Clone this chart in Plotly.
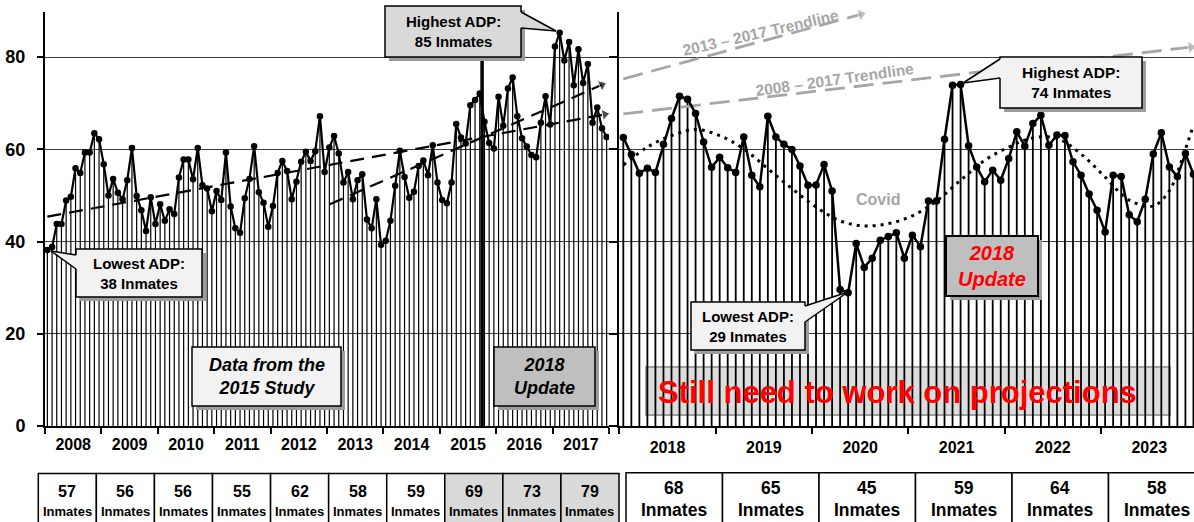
import plotly.graph_objects as go

W, H = 1194, 522
FONT = "Liberation Sans, Arial, sans-serif"

# ---------------- data ----------------
years_left = ["2008", "2009", "2010", "2011", "2012", "2013", "2014", "2015", "2016", "2017"]
years_right = ["2018", "2019", "2020", "2021", "2022", "2023"]

# monthly average daily population, Jan 2008 - Dec 2017
adp_left = [38.2, 38.8, 43.8, 43.8, 48.9, 49.7, 55.9, 54.9, 59.3, 59.3, 63.5, 62.2,
            56.8, 50.0, 53.6, 50.6, 49.2, 53.3, 60.3, 49.9, 46.8, 42.3, 49.6, 43.8,
            48.1, 44.5, 47.0, 46.0, 53.9, 57.8, 57.8, 53.5, 60.3, 52.2, 51.5, 46.6,
            51.0, 49.0, 59.3, 47.6, 42.9, 41.9, 49.4, 53.6, 60.7, 50.7, 48.4, 43.2,
            47.7, 54.9, 57.5, 55.3, 49.2, 53.0, 57.3, 59.5, 57.5, 59.6, 67.2, 55.1,
            60.4, 62.9, 59.1, 52.8, 55.1, 49.2, 53.3, 54.6, 44.8, 42.9, 49.2, 39.3,
            40.2, 44.5, 52.1, 59.7, 54.0, 49.5, 50.8, 56.4, 57.6, 54.4, 60.9, 52.8,
            49.0, 48.3, 52.8, 65.5, 62.6, 61.3, 69.6, 70.7, 72.1, 66.0, 61.4, 60.2,
            71.4, 65.1, 73.2, 75.6, 67.2, 62.4, 60.6, 58.8, 58.3, 65.8, 71.5, 65.4,
            82.3, 85.3, 79.3, 83.3, 73.9, 81.7, 74.4, 78.5, 65.8, 69.1, 64.6, 62.7]

# monthly average daily population, Jan 2018 - Dec 2023
adp_right = [62.6, 58.9, 54.8, 55.9, 55.0, 61.1, 66.7, 71.5, 70.9, 67.8, 61.6, 56.1,
             58.3, 56.0, 55.0, 62.7, 54.4, 51.9, 67.2, 62.7, 61.1, 60.0, 56.4, 52.2,
             52.3, 56.7, 51.0, 29.6, 28.9, 39.6, 34.4, 36.4, 40.3, 41.1, 41.9, 36.4,
             41.4, 38.9, 48.8, 48.8, 62.2, 73.9, 74.1, 60.8, 56.2, 53.0, 55.5, 53.3,
             58.0, 63.8, 60.7, 65.6, 67.4, 60.9, 63.1, 63.0, 57.3, 54.4, 50.3, 46.8,
             42.1, 54.4, 54.1, 45.8, 44.3, 49.2, 59.0, 63.6, 56.2, 54.1, 59.1, 54.6]

avg_left = [57, 56, 56, 55, 62, 58, 59, 69, 73, 79]
avg_right = [68, 65, 45, 59, 64, 58]
shaded_left = [False] * 7 + [True] * 3

study_split_month = 92.5
split_top_value = 79.8

trend_0817_left_m = [0, 118.6]
trend_0817_left_v = [45.4, 67.6]
trend_1317_left_m = [60.1, 118.0]
trend_1317_left_v = [48.1, 74.0]
trend_0817_right_m = [0, 70.7]
trend_0817_right_v = [67.7, 82.2]
trend_1317_right_m = [0, 29.6]
trend_1317_right_v = [75.3, 89.3]

covid_m = [0, 3, 6, 9, 12, 15, 18, 21, 24, 27, 30, 33, 36, 39, 42, 45, 48, 51, 54,
           57, 60, 63, 66, 68, 69, 70, 71]
covid_v = [56.6, 60.5, 63.0, 64.3, 63.0, 60.1, 55.8, 51.5, 47.5, 44.5, 43.4, 43.9,
           45.6, 48.8, 53.3, 57.6, 60.5, 62.5, 62.4, 59.0, 54.0, 49.0, 47.7, 51.0,
           55.0, 60.0, 65.3]

Y_MAX = 89.8


def px(x):
    return x / W


def py(y):
    return 1 - y / H


fig = go.Figure()


def stems(values, xa, ya, width):
    sx, sy = [], []
    for m, v in enumerate(values):
        sx += [m, m, None]
        sy += [0, v, None]
    fig.add_trace(go.Scatter(x=sx, y=sy, mode="lines", xaxis=xa, yaxis=ya,
                             line=dict(color="black", width=width), hoverinfo="skip"))


stems(adp_left, "x", "y", 1.2)
stems(adp_right, "x2", "y2", 1.8)

# separator between the 2015 study data and the 2018 update
fig.add_trace(go.Scatter(x=[study_split_month, study_split_month], y=[0, split_top_value],
                         mode="lines", xaxis="x", yaxis="y",
                         line=dict(color="black", width=3.5), hoverinfo="skip"))


def trend(m, v, xa, ya, color, dash, width, size):
    fig.add_trace(go.Scatter(x=m, y=v, mode="lines+markers", xaxis=xa, yaxis=ya,
                             line=dict(color=color, width=width, dash=dash),
                             marker=dict(symbol="triangle-up", angleref="previous",
                                         size=[0, size], color=color),
                             cliponaxis=False, hoverinfo="skip"))


trend(trend_0817_left_m, trend_0817_left_v, "x", "y", "black", "14px,8px", 2.2, 10)
trend(trend_1317_left_m, trend_1317_left_v, "x", "y", "black", "14px,8px", 2.2, 10)
trend(trend_0817_right_m, trend_0817_right_v, "x2", "y2", "#a6a6a6", "20px,9px", 2.8, 11)
trend(trend_1317_right_m, trend_1317_right_v, "x2", "y2", "#a6a6a6", "20px,9px", 2.8, 11)

# covid dotted trend
fig.add_trace(go.Scatter(x=covid_m, y=covid_v, mode="lines", xaxis="x2", yaxis="y2",
                         line=dict(color="black", width=3, dash="3px,5px", shape="spline",
                                   smoothing=1.0),
                         hoverinfo="skip"))

# data lines
fig.add_trace(go.Scatter(x=list(range(len(adp_left))), y=adp_left, mode="lines+markers",
                         xaxis="x", yaxis="y", line=dict(color="black", width=2.2),
                         marker=dict(color="black", size=6.5), hoverinfo="skip"))
fig.add_trace(go.Scatter(x=list(range(len(adp_right))), y=adp_right, mode="lines+markers",
                         xaxis="x2", yaxis="y2", line=dict(color="black", width=2.5),
                         marker=dict(color="black", size=7.5), hoverinfo="skip"))

shapes = []
annotations = []


def rect(x0, y0, x1, y1, fill, line_color="black", lw=1.5, layer="above"):
    shapes.append(dict(type="rect", xref="paper", yref="paper",
                       x0=px(x0), x1=px(x1), y0=py(y1), y1=py(y0),
                       fillcolor=fill, line=dict(color=line_color, width=lw), layer=layer))


def text(cx, cy, s, size, color="black", family=FONT, angle=0):
    annotations.append(dict(xref="paper", yref="paper", x=px(cx), y=py(cy), text=s,
                            showarrow=False, xanchor="center", yanchor="middle",
                            textangle=angle,
                            font=dict(family=family, size=size, color=color)))


def callout(x0, y0, x1, y1, fill, s, size, color="black", tip=None, base=None,
            shadow=True, lw=1.5):
    if shadow:
        rect(x0 + 4, y0 + 4, x1 + 4, y1 + 4, "#9c9c9c", line_color="rgba(0,0,0,0)", lw=0)
    rect(x0, y0, x1, y1, fill, lw=lw)
    if tip is not None:
        def inward(p):
            x, y = p
            if abs(x - x0) < 0.5:
                x += 2.5
            elif abs(x - x1) < 0.5:
                x -= 2.5
            if abs(y - y0) < 0.5:
                y += 2.5
            elif abs(y - y1) < 0.5:
                y -= 2.5
            return (x, y)
        b1, b2 = base
        i1, i2 = inward(b1), inward(b2)
        pts = [tip, b1, i1, i2, b2]
        path = "M " + " L ".join(f"{px(a):.5f},{py(b):.5f}" for a, b in pts) + " Z"
        shapes.append(dict(type="path", xref="paper", yref="paper", path=path,
                           fillcolor=fill, line=dict(width=0), layer="above"))
        for b in (b1, b2):
            shapes.append(dict(type="line", xref="paper", yref="paper",
                               x0=px(tip[0]), y0=py(tip[1]), x1=px(b[0]), y1=py(b[1]),
                               line=dict(color="black", width=lw), layer="above"))
    text((x0 + x1) / 2, (y0 + y1) / 2, s, size, color)


# "Still need" box (stems show through it)
rect(646, 367, 1170, 415, "#dcdcdc", line_color="#a0a0a0", lw=2, layer="below")
text(897, 392, "<b>Still need to work on projections</b>", 31, "#ff0000")

callout(76, 249, 202, 297, "#f2f2f2", "<b>Lowest ADP:<br>38 Inmates</b>", 15,
        tip=(51, 251), base=((76, 255), (76, 269)))
callout(385, 6, 521, 57, "#d9d9d9", "<b>Highest ADP:<br>85 Inmates</b>", 15,
        tip=(556, 31), base=((521, 12), (521, 28)))
callout(192, 347, 341, 406, "#f2f2f2", "<b><i>Data from the<br>2015 Study</i></b>", 18)
callout(494, 347, 595, 406, "#bfbfbf", "<b><i>2018<br>Update</i></b>", 18)

callout(1000, 57, 1142, 108, "#f2f2f2", "<b>Highest ADP:<br>74 Inmates</b>", 15.5,
        tip=(963, 83), base=((1000, 59), (1000, 78)))
callout(691, 302, 805, 350, "#f2f2f2", "<b>Lowest ADP:<br>29 Inmates</b>", 15,
        tip=(848, 292), base=((805, 306), (805, 322)))
callout(946, 236, 1038, 296, "#bfbfbf", "<b><i>2018<br>Update</i></b>", 20, color="#ff0000",
        lw=2)

text(878, 199, "<b>Covid</b>", 16, "#a6a6a6")
text(761, 33, "<b>2013 – 2017 Trendline</b>", 15.5, "#a6a6a6", angle=-13)
text(835, 80, "<b>2008 – 2017 Trendline</b>", 15.5, "#a6a6a6", angle=-8)

# yearly tables
CW_L = 58.07
for k, (v, sh) in enumerate(zip(avg_left, shaded_left)):
    x0 = 38.3 + CW_L * k
    rect(x0, 473.5, x0 + CW_L, 524, "#d9d9d9" if sh else "white")
    text(x0 + CW_L / 2, 491, f"<b>{v}</b>", 16)
    text(x0 + CW_L / 2, 511, "<b>Inmates</b>", 13)

CW_R = 96.5
for k, v in enumerate(avg_right):
    x0 = 626 + CW_R * k
    rect(x0, 472.7, x0 + CW_R, 524, "white")
    text(x0 + CW_R / 2, 488, f"<b>{v}</b>", 17.5)
    text(x0 + CW_R / 2, 510, "<b>Inmates</b>", 17.5)

ydom = [1 - 426 / H, 1 - 12 / H]
common_y = dict(range=[0, Y_MAX], domain=ydom, tickvals=[0, 20, 40, 60, 80],
                showgrid=True, gridcolor="#3c3c3c", gridwidth=1, zeroline=False,
                showline=True, linecolor="black", linewidth=2, ticks="outside",
                tickcolor="black", tickwidth=1.5, fixedrange=True)

fig.update_layout(
    width=W, height=H, template="none",
    margin=dict(l=0, r=0, t=0, b=0, pad=0),
    paper_bgcolor="white", plot_bgcolor="rgba(0,0,0,0)",
    showlegend=False,
    xaxis=dict(domain=[px(45), px(609)], range=[-0.5, 119.5], anchor="y",
               showgrid=False, zeroline=False, showline=True, linecolor="black",
               linewidth=1.5, tickmode="array",
               tickvals=[5.5 + 12 * i for i in range(len(years_left))],
               ticktext=[f"<b>{y}</b>" for y in years_left], ticks="",
               ticklabelstandoff=3,
               tickfont=dict(family=FONT, size=16, color="black"),
               minor=dict(tickmode="array",
                          tickvals=[-0.5 + 12 * i for i in range(len(years_left) + 1)],
                          ticks="outside", ticklen=6, tickcolor="black", tickwidth=1.5,
                          showgrid=False),
               fixedrange=True),
    xaxis2=dict(domain=[px(619.3), 1.0], range=[-0.5, 71.07], anchor="y2",
                showgrid=False, zeroline=False, showline=True, linecolor="black",
                linewidth=1.5, tickmode="array",
                tickvals=[5.5 + 12 * i for i in range(len(years_right))],
                ticktext=[f"<b>{y}</b>" for y in years_right], ticks="",
                ticklabelstandoff=6,
                tickfont=dict(family=FONT, size=16, color="black"),
                minor=dict(tickmode="array",
                           tickvals=[-0.5 + 12 * i for i in range(len(years_right) + 1)],
                           ticks="outside", ticklen=6, tickcolor="black", tickwidth=1.5,
                           showgrid=False),
                fixedrange=True),
    yaxis=dict(anchor="x", ticktext=[f"<b>{v}</b>" for v in [0, 20, 40, 60, 80]],
               tickmode="array", ticklen=6, ticklabelstandoff=8,
               tickfont=dict(family=FONT, size=18, color="black"), **common_y),
    yaxis2=dict(anchor="x2", showticklabels=False, ticklen=8, **common_y),
    shapes=shapes,
    annotations=annotations,
)

fig.write_html("out.html",
               config={"displayModeBar": False},
               post_script="document.body.style.margin='0';"
                           "document.body.style.padding='0';"
                           "document.body.style.overflow='hidden';")
